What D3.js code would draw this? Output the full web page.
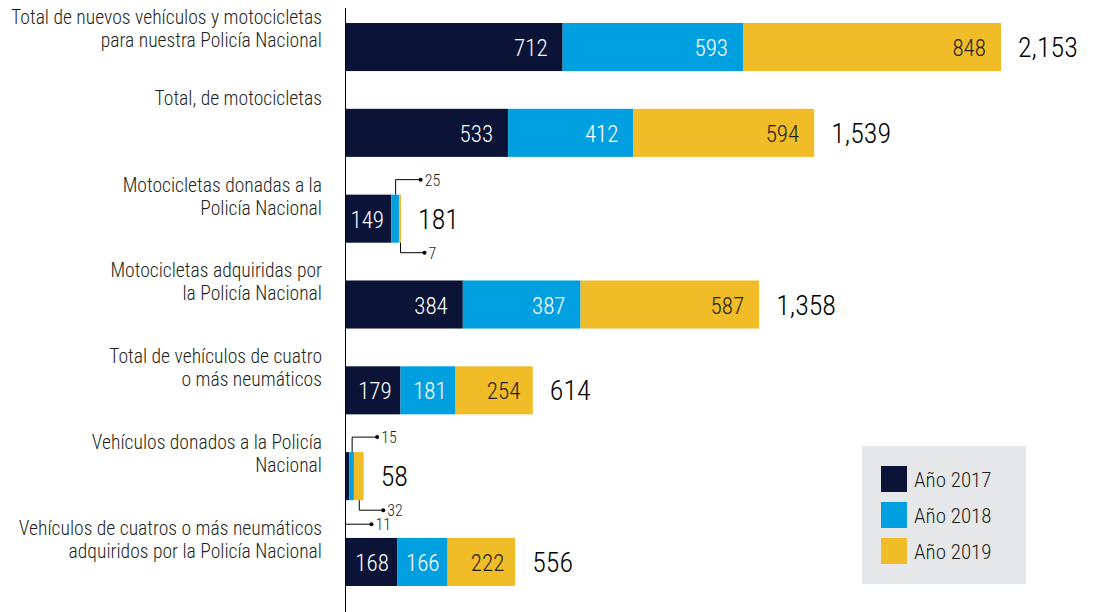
<!DOCTYPE html>
<html>
<head>
<meta charset="utf-8">
<script src="https://cdn.jsdelivr.net/npm/d3@7"></script>
<style>
  body { margin: 0; background: #fff; }
  svg { font-family: "Roboto Condensed", "Liberation Sans Narrow", sans-serif; font-weight: 300; }
  .row-label { font-size: 19.6px; fill: #231f20; }
  .seg-label { font-size: 23px; }
  .total-label { font-size: 28px; fill: #000; }
  .note-label { font-size: 16px; fill: #231f20; }
  .legend-label { font-size: 21px; fill: #231f20; }
</style>
</head>
<body>
<svg id="chart" width="1095" height="612"></svg>
<script>
/*** DATA ***/
const categories = [
    "Total de nuevos vehículos y motocicletas\npara nuestra Policía Nacional",
    "Total, de motocicletas",
    "Motocicletas donadas a la\nPolicía Nacional",
    "Motocicletas adquiridas por\nla Policía Nacional",
    "Total de vehículos de cuatro\no más neumáticos",
    "Vehículos donados a la Policía\nNacional",
    "Vehículos de cuatros o más neumáticos\nadquiridos por la Policía Nacional"
];
const series = ["Año 2017", "Año 2018", "Año 2019"];
const values2017 = [712, 533, 149, 384, 179, 11, 168];
const values2018 = [593, 412, 25, 387, 181, 15, 166];
const values2019 = [848, 594, 7, 587, 254, 32, 222];
const totals = ["2,153", "1,539", "181", "1,358", "614", "58", "556"];
const colors = ["#0b1437", "#009fe0", "#f0bc27"];

// small values written outside the bar: row, series index, side
const notes = [
    {row: 2, s: 1, side: "top"},
    {row: 2, s: 2, side: "bottom"},
    {row: 5, s: 1, side: "top"},
    {row: 5, s: 2, side: "bottom"},
    {row: 5, s: 0, side: "axis"}
];

/*** SETUP ***/
const svg = d3.select("#chart");
const x0 = 346;
const x = d3.scaleLinear().domain([0, 2153]).range([x0, 1001]);
const y = d3.scaleBand().domain(d3.range(categories.length)).range([23, 586]).paddingInner(0.44);

const stack = d3.stack().keys([0, 1, 2]).value((d, k) => d[k]);
const rows = categories.map((c, i) => [values2017[i], values2018[i], values2019[i]]);
const layers = stack(rows);

// axis line
svg.append("line")
    .attr("x1", x0 - 0.5).attr("x2", x0 - 0.5)
    .attr("y1", 8).attr("y2", 612)
    .attr("stroke", "#000").attr("stroke-width", 1);

// bars
layers.forEach((layer, k) => {
    svg.selectAll("rect.s" + k)
        .data(layer).enter()
        .append("rect")
        .attr("class", "s" + k)
        .attr("x", (d) => x(d[0]))
        .attr("y", (d, i) => y(i))
        .attr("width", (d) => x(d[1]) - x(d[0]))
        .attr("height", y.bandwidth())
        .attr("fill", colors[k]);

    // labels inside bars when there is room
    svg.selectAll("text.sl" + k)
        .data(layer).enter()
        .filter((d) => x(d[1]) - x(d[0]) > 40)
        .append("text")
        .attr("class", "seg-label sl" + k)
        .attr("x", (d) => x(d[1]) - Math.min(15, (x(d[1]) - x(d[0])) * 0.16))
        .attr("y", (d) => y(layer.indexOf(d)) + y.bandwidth() / 2 + 9)
        .attr("text-anchor", "end")
        .attr("fill", k === 2 ? "#231f20" : "#fff")
        .text((d) => d.data[k]);
});

// totals
svg.selectAll("text.total-label")
    .data(totals).enter()
    .append("text")
    .attr("class", "total-label")
    .attr("x", (d, i) => x(layers[2][i][1]) + 17)
    .attr("y", (d, i) => y(i) + y.bandwidth() / 2 + 10)
    .text((d) => d);

// row labels
categories.forEach((c, i) => {
    const lines = c.split("\n");
    const t = svg.append("text")
        .attr("class", "row-label")
        .attr("text-anchor", "end")
        .attr("y", y(i) - (lines.length === 1 ? 4 : (i === 0 ? -1 : 3)));
    lines.forEach((l, j) => {
        t.append("tspan").attr("x", 322).attr("dy", j === 0 ? 0 : 23).text(l);
    });
});

// small-value callouts
notes.forEach((n) => {
    const seg = layers[n.s][n.row];
    const top = y(n.row), bot = top + y.bandwidth();
    let xs, ys, ye, xe;
    if (n.side === "top") {
        xs = (x(seg[0]) + x(seg[1])) / 2 + 0.5;
        ys = top; ye = top - 15; xe = xs + 25;
    } else if (n.side === "bottom") {
        xs = (x(seg[0]) + x(seg[1])) / 2 + 0.5;
        ys = bot; ye = bot + 10; xe = xs + 24;
    } else {
        xs = x0 - 0.5;
        ys = bot + 24; ye = bot + 24; xe = xs + 26;
    }
    svg.append("path")
        .attr("d", `M${xs},${ys}V${ye}H${xe}`)
        .attr("fill", "none").attr("stroke", "#000").attr("stroke-width", 1);
    svg.append("circle").attr("cx", xe).attr("cy", ye).attr("r", 2).attr("fill", "#000");
    svg.append("text")
        .attr("class", "note-label")
        .attr("x", xe + 4).attr("y", ye + 6)
        .text(seg.data[n.s]);
});

// legend
const legend = svg.append("g").attr("transform", "translate(862, 446)");
legend.append("rect").attr("width", 164).attr("height", 138).attr("fill", "#e6e7e9");
series.forEach((s, k) => {
    legend.append("rect")
        .attr("x", 19).attr("y", 20 + k * 36)
        .attr("width", 26).attr("height", 26)
        .attr("fill", colors[k]);
    legend.append("text")
        .attr("class", "legend-label")
        .attr("x", 52).attr("y", 41 + k * 36)
        .text(s);
});
</script>
</body>
</html>
